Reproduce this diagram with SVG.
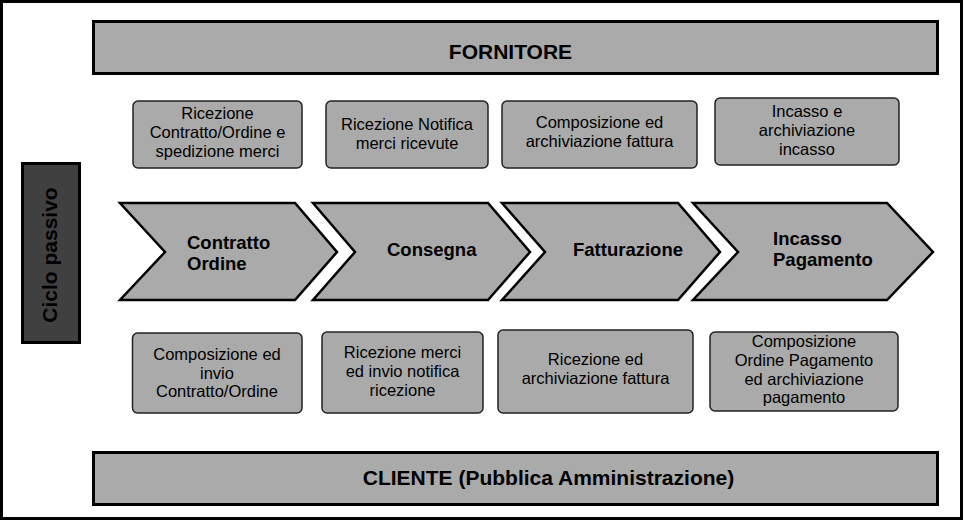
<svg xmlns="http://www.w3.org/2000/svg" width="964" height="521" viewBox="0 0 964 521">
<style>
.bar{fill:#aaaaaa;stroke:#000;stroke-width:3}
.box{fill:#aaaaaa;stroke:#222;stroke-width:1.5}
.chev{fill:#aaaaaa;stroke:#000;stroke-width:2.5;stroke-linejoin:miter}
.t{font-family:"Liberation Sans",Arial,sans-serif;font-size:16.5px;fill:#000;text-anchor:middle}
.cb{font-family:"Liberation Sans",Arial,sans-serif;font-size:18.5px;font-weight:bold;fill:#000}
.bb{font-family:"Liberation Sans",Arial,sans-serif;font-size:21px;font-weight:bold;fill:#000}
</style>
<rect x="0" y="0" width="964" height="521" fill="#fff"/>
<rect x="1.5" y="1.5" width="960" height="517" fill="#fff" stroke="#000" stroke-width="3"/>
<g id="fornitore">
<rect class="bar" x="93.5" y="21.5" width="844" height="52"/>
<text class="bb" x="510.5" y="59" text-anchor="middle">FORNITORE</text>
</g>
<g id="cliente">
<rect class="bar" x="93.5" y="452.5" width="844" height="52"/>
<text class="bb" x="548.5" y="485" text-anchor="middle">CLIENTE (Pubblica Amministrazione)</text>
</g>
<g id="ciclo">
<rect x="22.5" y="163.5" width="57" height="179" fill="#404040" stroke="#000" stroke-width="3"/>
<text class="bb" transform="translate(57,255) rotate(-90)" text-anchor="middle" fill="#111">Ciclo passivo</text>
</g>
<g id="chevrons">
<g id="contratto">
<polygon class="chev" points="120,203 295,203 337,252 295,300 120,300 165,252"/>
<text class="cb" x="187" y="249">Contratto</text>
<text class="cb" x="187" y="270">Ordine</text>
</g>
<g id="consegna">
<polygon class="chev" points="313,203 488,203 530,252 488,300 313,300 355,252"/>
<text class="cb" x="387" y="256">Consegna</text>
</g>
<g id="fatturazione">
<polygon class="chev" points="502,203 678,203 720,252 678,300 502,300 545,252"/>
<text class="cb" x="573" y="256">Fatturazione</text>
</g>
<g id="incasso">
<polygon class="chev" points="693,203 887,203 933,252 887,300 693,300 738,252"/>
<text class="cb" x="773" y="245">Incasso</text>
<text class="cb" x="773" y="266">Pagamento</text>
</g>
</g>
<g id="top-boxes">
<g id="f1">
<rect class="box" x="133" y="101" width="169" height="67" rx="5"/>
<text class="t" x="217.5" y="119">Ricezione</text>
<text class="t" x="217.5" y="138">Contratto/Ordine e</text>
<text class="t" x="217.5" y="157">spedizione merci</text>
</g>
<g id="f2">
<rect class="box" x="326" y="101" width="162" height="67" rx="5"/>
<text class="t" x="407" y="130">Ricezione Notifica</text>
<text class="t" x="407" y="149">merci ricevute</text>
</g>
<g id="f3">
<rect class="box" x="502" y="101" width="195" height="67" rx="5"/>
<text class="t" x="599.5" y="128">Composizione ed</text>
<text class="t" x="599.5" y="147">archiviazione fattura</text>
</g>
<g id="f4">
<rect class="box" x="715" y="98" width="184" height="67" rx="5"/>
<text class="t" x="807" y="117">Incasso e</text>
<text class="t" x="807" y="136">archiviazione</text>
<text class="t" x="807" y="155">incasso</text>
</g>
</g>
<g id="bottom-boxes">
<g id="c1">
<rect class="box" x="132.5" y="333" width="169.5" height="80" rx="5"/>
<text class="t" x="217" y="360">Composizione ed</text>
<text class="t" x="217" y="378.5">invio</text>
<text class="t" x="217" y="397">Contratto/Ordine</text>
</g>
<g id="c2">
<rect class="box" x="322" y="332" width="161" height="81" rx="5"/>
<text class="t" x="402.5" y="358">Ricezione merci</text>
<text class="t" x="402.5" y="377">ed invio notifica</text>
<text class="t" x="402.5" y="396">ricezione</text>
</g>
<g id="c3">
<rect class="box" x="498" y="330" width="195" height="83" rx="5"/>
<text class="t" x="595.5" y="365">Ricezione ed</text>
<text class="t" x="595.5" y="384">archiviazione fattura</text>
</g>
<g id="c4">
<rect class="box" x="710" y="332" width="188" height="79" rx="5"/>
<text class="t" x="804" y="347">Composizione</text>
<text class="t" x="804" y="366">Ordine Pagamento</text>
<text class="t" x="804" y="385">ed archiviazione</text>
<text class="t" x="804" y="403">pagamento</text>
</g>
</g>
</svg>
